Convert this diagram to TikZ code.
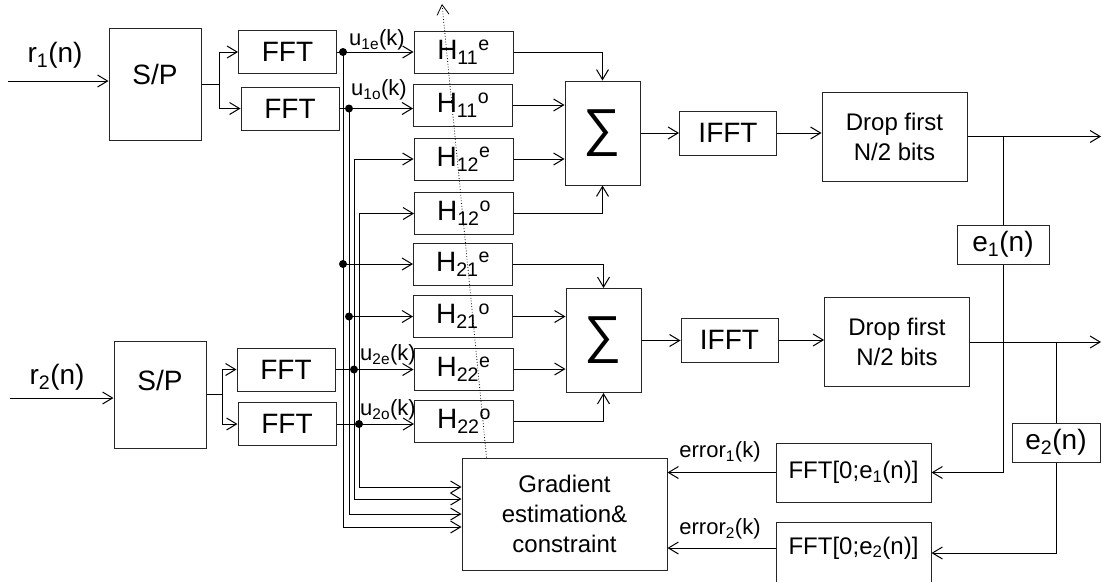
\documentclass[tikz,border=0pt]{standalone}
\usepackage{fontspec}
\setmainfont{Liberation Sans}
\usetikzlibrary{arrows.meta,calc}

\newcommand{\fbig}{\fontsize{28}{32}\selectfont}
\newcommand{\fmid}{\fontsize{24}{30}\selectfont}
\newcommand{\fsmall}{\fontsize{22}{24}\selectfont}
\newcommand{\fsum}{\fontsize{52}{54}\selectfont}

\tikzset{
  blk/.style={draw=black!85,line width=1pt,inner sep=0pt,font=\fbig},
  fftbox/.style={blk,minimum width=98,minimum height=43},
  hbox/.style={blk,minimum width=99,minimum height=42},
  sumbox/.style={blk,minimum width=75,minimum height=104,font=\fsum},
  dropbox/.style={blk,minimum width=145,minimum height=89,align=center,font=\fmid},
  ebox/.style={blk,minimum height=39},
  txt/.style={inner sep=0pt,font=\fsmall}
}

\begin{document}
\begin{tikzpicture}[x=1pt,y=-1pt,line width=1pt,>={Straight Barb[length=10pt,width=12pt]},
  every label/.style={font=\fbig,inner sep=0pt}]
\useasboundingbox (0,0) rectangle (1102,581);

% input side
\node[blk,minimum width=92,minimum height=112,label={[yshift=10pt]center:S/P}] (sp1) at (155,84) {};
\node[blk,minimum width=92,minimum height=107,label={[yshift=14pt]center:S/P}] (sp2) at (160,394.5) {};
\node[fftbox] (fft1a) at (287.5,52) {FFT};
\node[fftbox] (fft1b) at (290,108.5) {FFT};
\node[fftbox] (fft2a) at (286,369.5) {FFT};
\node[fftbox] (fft2b) at (287,424) {FFT};
\node[txt,font=\fbig] (r1lab) at (55,55) {r\textsubscript{1}(n)};
\node[txt,font=\fbig] (r2lab) at (57,377) {r\textsubscript{2}(n)};

% filters
\node[hbox] (h11e) at (463.5,52) {H\textsubscript{11}\textsuperscript{e}};
\node[hbox] (h11o) at (463,105) {H\textsubscript{11}\textsuperscript{o}};
\node[hbox] (h12e) at (463.5,159) {H\textsubscript{12}\textsuperscript{e}};
\node[hbox] (h12o) at (464,213.5) {H\textsubscript{12}\textsuperscript{o}};
\node[hbox] (h21e) at (463,264) {H\textsubscript{21}\textsuperscript{e}};
\node[hbox] (h21o) at (463,316.5) {H\textsubscript{21}\textsuperscript{o}};
\node[hbox] (h22e) at (463.5,369) {H\textsubscript{22}\textsuperscript{e}};
\node[hbox] (h22o) at (464,421) {H\textsubscript{22}\textsuperscript{o}};
\node[txt] (u1elab) at (377,40) {u\textsubscript{1e}(k)};
\node[txt] (u1olab) at (379,90) {u\textsubscript{1o}(k)};
\node[txt] (u2elab) at (388,355) {u\textsubscript{2e}(k)};
\node[txt] (u2olab) at (388,410) {u\textsubscript{2o}(k)};

% output side
\node[sumbox] (sum1) at (602.5,133) {∑};
\node[sumbox] (sum2) at (603.5,340.5) {∑};
\node[blk,minimum width=97,minimum height=44] (ifft1) at (728,133) {IFFT};
\node[blk,minimum width=97,minimum height=44] (ifft2) at (729.5,340) {IFFT};
\node[dropbox] (drop1) at (894.5,136.5) {Drop first\\N/2 bits};
\node[dropbox] (drop2) at (897,342) {Drop first\\N/2 bits};
\node[ebox,minimum width=92] (e1) at (1003,244.5) {e\textsubscript{1}(n)};
\node[ebox,minimum width=88] (e2) at (1056,442.5) {e\textsubscript{2}(n)};

% adaptation
\node[blk,minimum width=155,minimum height=59,font=\fmid] (ffte1) at (853.5,472.5) {FFT[0;e\textsubscript{1}(n)]};
\node[blk,minimum width=155,minimum height=62,
  label={[font=\fmid,yshift=5pt]center:FFT[0;e\textsubscript{2}(n)]}] (ffte2) at (853.5,553) {};
\node[blk,minimum width=205,minimum height=112,align=center,font=\fmid] (grad) at (564.5,514)
  {Gradient\\estimation\&\\constraint};
\node[txt] (err1lab) at (720,452) {error\textsubscript{1}(k)};
\node[txt] (err2lab) at (720,529) {error\textsubscript{2}(k)};

\coordinate (in1) at (8,81);
\coordinate (in2) at (10,398);
\coordinate (sb1) at (219,84);
\coordinate (sb2) at (222,394.5);
\coordinate (bA) at (343,0);
\coordinate (bB) at (349,0);
\coordinate (bC) at (354,0);
\coordinate (bD) at (359,0);
\coordinate (gA) at ($(grad.west)+(0,13)$);
\coordinate (gB) at (grad.west);
\coordinate (gC) at ($(grad.west)+(0,-15)$);
\coordinate (gD) at ($(grad.west)+(0,-27)$);
\coordinate (out1) at (1101,136.5);
\coordinate (out2) at (1101,342);
\coordinate (e2w) at ([yshift=5pt]ffte2.west);
\coordinate (dbot) at ($(grad.north west)+(25,0)$);
\coordinate (dtop) at (442,4);

\draw[->] (in1) -- (in1 -| sp1.west);
\draw[->] (in2) -- (in2 -| sp2.west);
\draw (sp1.east) -- (sb1);
\draw[->] (sb1) |- (fft1a.west);
\draw[->] (sb1) |- (fft1b.west);
\draw (sp2.east) -- (sb2);
\draw[->] (sb2) |- (fft2a.west);
\draw[->] (sb2) |- (fft2b.west);

\draw[->] (fft1a.east) -- (fft1a.east -| h11e.west);
\draw[->] (fft1b.east) -- (fft1b.east -| h11o.west);
\draw[->] (fft2a.east) -- (fft2a.east -| h22e.west);
\draw[->] (fft2b.east) -- (fft2b.east -| h22o.west);
\draw[->] (bA |- fft1a.east) -- (bA |- gA) -- (gA);
\draw[->] (bB |- fft1b.east) -- (bB |- gB) -- (gB);
\draw[<->] (h12e.west) -- (bC |- h12e.west) -- (bC |- gC) -- (gC);
\draw[<->] (h12o.west) -- (bD |- h12o.west) -- (bD |- gD) -- (gD);
\draw[->] (bA |- h21e.west) -- (h21e.west);
\draw[->] (bB |- h21o.west) -- (h21o.west);
\foreach \p in {bA |- fft1a.east, bB |- fft1b.east, bA |- h21e.west,
                bB |- h21o.west, bC |- fft2a.east, bD |- fft2b.east}
  \fill (\p) circle (4pt);

\draw[->] (h11e.east) -| (sum1.north);
\draw[->] (h11o.east) -- (h11o.east -| sum1.west);
\draw[->] (h12e.east) -- (h12e.east -| sum1.west);
\draw[->] (h12o.east) -| (sum1.south);
\draw[->] (h21e.east) -| (sum2.north);
\draw[->] (h21o.east) -- (h21o.east -| sum2.west);
\draw[->] (h22e.east) -- (h22e.east -| sum2.west);
\draw[->] (h22o.east) -| (sum2.south);
\draw[->] (sum1.east) -- (sum1.east -| ifft1.west);
\draw[->] (sum2.east) -- (sum2.east -| ifft2.west);
\draw[->] (ifft1.east) -- (ifft1.east -| drop1.west);
\draw[->] (ifft2.east) -- (ifft2.east -| drop2.west);
\draw[->] (drop1.east) -- (out1);
\draw[->] (drop2.east) -- (out2);

\draw (e1.north |- drop1.east) -- (e1.north);
\draw (e2.north |- drop2.east) -- (e2.north);
\draw[->] (e1.south) |- (ffte1.east);
\draw[->] (e2.south) |- (ffte2.east);
\draw[->] (ffte1.west) -- (ffte1.west -| grad.east);
\draw[->] (e2w) -- (e2w -| grad.east);

\draw[->,dotted,line width=0.8pt] (dbot) -- (dtop);
\end{tikzpicture}
\end{document}
